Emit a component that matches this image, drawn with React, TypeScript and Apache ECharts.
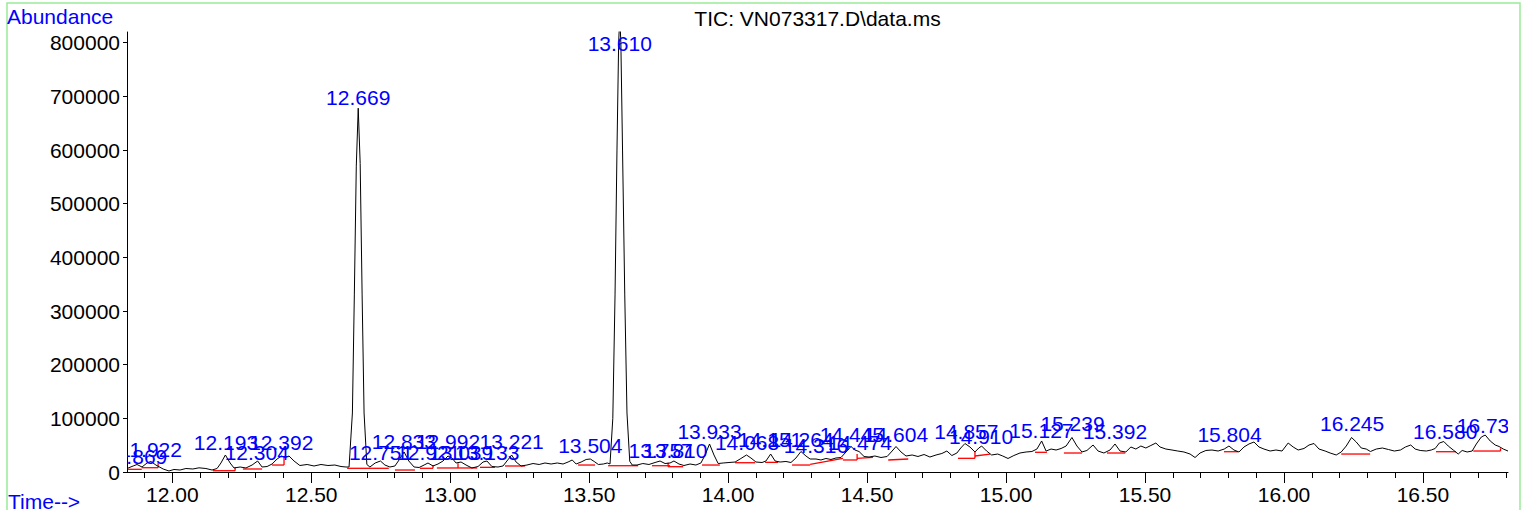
import React, { useEffect, useRef } from "react";
import * as echarts from "echarts";

// ---- data ----
const traceTime = [
  11.837, 11.859, 11.873, 11.891, 11.909, 11.923, 11.941, 11.967, 11.988, 12.006,
  12.028, 12.049, 12.074, 12.096, 12.121, 12.143, 12.161, 12.175, 12.191, 12.208,
  12.222, 12.244, 12.265, 12.287, 12.307, 12.323, 12.341, 12.359, 12.377, 12.393,
  12.406, 12.42, 12.438, 12.459, 12.485, 12.51, 12.535, 12.56, 12.585, 12.607,
  12.625, 12.636, 12.648, 12.655, 12.662, 12.669, 12.676, 12.683, 12.69, 12.7,
  12.711, 12.73, 12.749, 12.765, 12.783, 12.801, 12.816, 12.834, 12.851, 12.87,
  12.888, 12.906, 12.92, 12.938, 12.956, 12.974, 12.992, 13.006, 13.021, 13.039,
  13.057, 13.078, 13.1, 13.118, 13.132, 13.15, 13.172, 13.19, 13.204, 13.221,
  13.237, 13.255, 13.276, 13.298, 13.32, 13.341, 13.363, 13.385, 13.406, 13.424,
  13.439, 13.453, 13.471, 13.489, 13.504, 13.518, 13.533, 13.551, 13.565, 13.575,
  13.585, 13.593, 13.6, 13.606, 13.61, 13.614, 13.62, 13.628, 13.636, 13.646,
  13.655, 13.672, 13.693, 13.715, 13.737, 13.755, 13.773, 13.791, 13.805, 13.823,
  13.841, 13.863, 13.884, 13.902, 13.917, 13.933, 13.949, 13.964, 13.982, 14.003,
  14.025, 14.043, 14.066, 14.082, 14.1, 14.122, 14.136, 14.153, 14.169, 14.187,
  14.208, 14.226, 14.244, 14.262, 14.28, 14.295, 14.316, 14.334, 14.352, 14.37,
  14.388, 14.406, 14.424, 14.442, 14.456, 14.471, 14.489, 14.507, 14.528, 14.55,
  14.572, 14.59, 14.604, 14.622, 14.64, 14.662, 14.683, 14.705, 14.726, 14.748,
  14.769, 14.787, 14.805, 14.823, 14.837, 14.852, 14.87, 14.888, 14.902, 14.912,
  14.93, 14.948, 14.97, 14.988, 15.007, 15.028, 15.05, 15.072, 15.093, 15.111,
  15.128, 15.144, 15.162, 15.18, 15.198, 15.216, 15.237, 15.255, 15.273, 15.291,
  15.313, 15.331, 15.352, 15.374, 15.392, 15.41, 15.431, 15.449, 15.467, 15.485,
  15.503, 15.521, 15.539, 15.554, 15.575, 15.597, 15.618, 15.64, 15.662, 15.68,
  15.698, 15.719, 15.741, 15.763, 15.785, 15.802, 15.82, 15.838, 15.856, 15.874,
  15.892, 15.91, 15.928, 15.95, 15.971, 15.993, 16.015, 16.033, 16.051, 16.072,
  16.09, 16.108, 16.126, 16.148, 16.166, 16.188, 16.206, 16.224, 16.243, 16.26,
  16.278, 16.296, 16.311, 16.332, 16.354, 16.376, 16.397, 16.419, 16.437, 16.456,
  16.472, 16.49, 16.512, 16.53, 16.544, 16.559, 16.575, 16.591, 16.609, 16.627,
  16.641, 16.659, 16.677, 16.692, 16.71, 16.724, 16.742, 16.76, 16.774, 16.789,
  16.806,
];
const traceAbundance = [
  6500, 11200, 14000, 9300, 16800, 19600, 13000, 5600, 1900, 4700,
  3700, 6500, 5600, 7800, 6500, 3700, 6500, 16800, 31700, 16800,
  7500, 9300, 7500, 13000, 20500, 9300, 10200, 14900, 24200, 29800,
  27000, 29800, 20500, 12100, 14000, 11200, 14000, 12100, 13000, 10200,
  9300, 9300, 110000, 330000, 570000, 678000, 575000, 330000, 110000, 14000,
  9300, 16800, 20500, 13000, 9300, 11200, 22400, 37300, 20500, 9300,
  8400, 13000, 16800, 11200, 14900, 20500, 29800, 26100, 16800, 18600,
  13000, 7500, 10200, 18600, 20500, 10200, 9300, 11200, 20500, 31700,
  18600, 11200, 13000, 15800, 14000, 16800, 14900, 16800, 14900, 18600,
  22400, 14900, 18600, 23300, 24200, 19600, 14000, 14900, 16800, 15000,
  100000, 330000, 600000, 800000, 850000, 800000, 600000, 330000, 110000, 20000,
  13000, 13000, 15800, 14000, 17700, 20500, 15800, 16800, 20500, 14900,
  12100, 14900, 13000, 16800, 31700, 52200, 31700, 15800, 16800, 17700,
  18600, 24200, 31700, 26100, 18600, 17700, 20500, 33500, 20500, 18600,
  19600, 17700, 26100, 38200, 29800, 24200, 24200, 22400, 25200, 23300,
  26100, 27000, 37300, 47500, 41000, 38200, 28900, 27900, 29800, 27000,
  28900, 39100, 47500, 37300, 29800, 31700, 28900, 32600, 27900, 31700,
  34500, 39100, 30700, 35400, 44700, 53100, 46600, 37300, 44700, 48400,
  39100, 31700, 33500, 29800, 25200, 30700, 35400, 37300, 38200, 42800,
  57800, 39100, 42800, 41000, 43800, 48400, 64300, 48400, 37300, 40100,
  50300, 39100, 35400, 41000, 52200, 39100, 37300, 46600, 42800, 48400,
  44700, 49400, 54000, 46600, 42800, 41000, 39100, 37300, 33500, 27000,
  35400, 40100, 41000, 39100, 42800, 48400, 41000, 37300, 46600, 52200,
  55900, 46600, 42800, 39100, 41000, 39100, 54000, 46600, 41000, 43800,
  50300, 53100, 42800, 39100, 35400, 31700, 37300, 48400, 64300, 55900,
  44700, 42800, 38200, 42800, 44700, 41900, 39100, 41000, 46600, 50300,
  42800, 40100, 39100, 41000, 43800, 54000, 56800, 48400, 41000, 33500,
  40100, 37300, 39100, 52200, 65200, 68900, 57800, 50300, 47500, 42800,
  39100,
];

// peak labels: retention time and apex abundance
const peakTimes = [
  11.869, 11.922, 12.193, 12.304, 12.392, 12.669, 12.751, 12.833, 12.921, 12.992,
  13.039, 13.133, 13.221, 13.504, 13.61, 13.757, 13.81, 13.933, 14.068, 14.151,
  14.264, 14.316, 14.445, 14.474, 14.604, 14.857, 14.91, 15.127, 15.239, 15.392,
  15.804, 16.245, 16.58, 16.737,
];
const peakApex = [
  5600, 20500, 33500, 14900, 33500, 676000, 14900, 35400, 14900, 35400,
  14900, 14900, 35400, 26100, 850000, 18600, 18600, 52200, 31700, 37300,
  39100, 27900, 46600, 33500, 48400, 52200, 44700, 55900, 68900, 54000,
  46600, 67100, 54000, 65200,
];

// integration baselines (red): start time, start abundance, end time, end abundance
const baseStartTime = [
  11.841, 11.89, 12.146, 12.254, 12.359, 12.629, 12.722, 12.801, 12.891, 12.952,
  13.028, 13.107, 13.197, 13.46, 13.568, 13.726, 13.784, 13.906, 14.025, 14.133,
  14.23, 14.295, 14.413, 14.464, 14.576, 14.827, 14.888, 15.104, 15.208, 15.363,
  15.784, 16.206, 16.547, 16.681,
];
const baseStartValue = [
  5000, 8000, 2400, 5600, 13000, 6900, 6900, 3700, 6900, 7500,
  7500, 8700, 11200, 13000, 11700, 11700, 9900, 13000, 17300, 18000,
  13000, 14300, 22400, 25500, 22400, 25500, 29800, 36700, 35400, 35400,
  37800, 33500, 37800, 39100,
];
const baseEndTime = [
  11.89, 11.949, 12.226, 12.323, 12.402, 12.722, 12.779, 12.873, 12.938, 13.028,
  13.097, 13.161, 13.269, 13.521, 13.676, 13.791, 13.838, 13.97, 14.097, 14.18,
  14.295, 14.413, 14.464, 14.521, 14.648, 14.888, 14.942, 15.147, 15.273, 15.429,
  15.835, 16.31, 16.619, 16.779,
];
const baseEndValue = [
  5000, 8000, 2400, 5600, 13000, 6900, 6900, 3700, 6900, 7500,
  7500, 8700, 11200, 13000, 11700, 11700, 9900, 13000, 17300, 18000,
  13000, 25500, 22400, 27400, 24200, 25500, 33500, 36700, 35400, 35400,
  37800, 33500, 37800, 39100,
];
// vertical drop lines at split peaks: time, low abundance, high abundance
const dropTime = [11.949, 12.226, 12.402, 12.938, 13.028, 13.784, 14.464, 14.888, 16.779];
const dropLow = [8000, 2400, 13000, 6900, 7500, 9900, 22400, 25500, 39100];
const dropHigh = [16800, 8700, 28500, 13000, 16200, 17300, 33500, 37800, 44200];

const yTicks = [0, 100000, 200000, 300000, 400000, 500000, 600000, 700000, 800000];
const xMajorTicks = [12.0, 12.5, 13.0, 13.5, 14.0, 14.5, 15.0, 15.5, 16.0, 16.5];
const xMinorTicks = [
  11.9, 12.0, 12.1, 12.2, 12.3, 12.4, 12.5, 12.6, 12.7, 12.8, 12.9, 13.0, 13.1, 13.2,
  13.3, 13.4, 13.5, 13.6, 13.7, 13.8, 13.9, 14.0, 14.1, 14.2, 14.3, 14.4, 14.5, 14.6,
  14.7, 14.8, 14.9, 15.0, 15.1, 15.2, 15.3, 15.4, 15.5, 15.6, 15.7, 15.8, 15.9, 16.0,
  16.1, 16.2, 16.3, 16.4, 16.5, 16.6, 16.7, 16.8,
];
const xMin = 11.837;
const xMax = 16.806;
const yMax = 820000;

const titleText = "TIC: VN073317.D\\data.ms";
const yName = "Abundance";
const xName = "Time-->";

const FONT = '"Liberation Sans", Arial, sans-serif';
const FS = 21;
const BLUE = "#0000ff";

export default function App() {
  const ref = useRef<HTMLDivElement>(null);

  useEffect(() => {
    if (!ref.current) return;
    const chart = echarts.init(ref.current, undefined, { renderer: "svg" });
    const gridLeft = 127;
    const gridTop = 32;
    const gridWidth = 1381;
    const gridHeight = 440;

    const trace = traceTime.map((t, i) => [t, traceAbundance[i]]);
    const labels = peakTimes.map((t, i) => [t, peakApex[i]]);
    const bases = baseStartTime.map((t, i) => [t, baseStartValue[i], baseEndTime[i], baseEndValue[i]]);
    const drops = dropTime.map((t, i) => [t, dropLow[i], t, dropHigh[i]]);

    const segRender = (_p: any, api: any) => {
      const a = api.coord([api.value(0), api.value(1)]);
      const b = api.coord([api.value(2), api.value(3)]);
      return {
        type: "line",
        shape: { x1: a[0], y1: a[1], x2: b[0], y2: b[1] },
        style: { stroke: "#ff0000", lineWidth: 1.3 },
      };
    };

    chart.setOption({
      animation: false,
      grid: { left: gridLeft, top: gridTop, width: gridWidth, height: gridHeight, containLabel: false },
      xAxis: [
        {
          type: "value",
          min: xMin,
          max: xMax,
          position: "bottom",
          axisLine: { show: true, lineStyle: { color: "#000", width: 1 } },
          axisTick: { show: true, length: 11, customValues: xMajorTicks, lineStyle: { color: "#000" } },
          axisLabel: {
            show: true,
            customValues: xMajorTicks,
            formatter: (v: number) => v.toFixed(2),
            color: "#000",
            fontSize: FS,
            fontFamily: FONT,
            margin: 12,
          },
          splitLine: { show: false },
        },
        {
          type: "value",
          min: xMin,
          max: xMax,
          position: "bottom",
          axisLine: { show: false },
          axisTick: { show: true, length: 6, customValues: xMinorTicks, lineStyle: { color: "#000" } },
          axisLabel: { show: false },
          splitLine: { show: false },
        },
      ],
      yAxis: {
        type: "value",
        min: 0,
        max: yMax,
        axisLine: { show: true, lineStyle: { color: "#000", width: 1 } },
        axisTick: { show: true, length: 4, customValues: yTicks, lineStyle: { color: "#000" } },
        axisLabel: {
          show: true,
          customValues: yTicks,
          formatter: (v: number) => String(v),
          color: "#000",
          fontSize: FS,
          fontFamily: FONT,
          margin: 7,
        },
        splitLine: { show: false },
      },
      graphic: [
        {
          type: "rect",
          shape: { x: 7, y: 3, width: 1513, height: 530 },
          style: { fill: "none", stroke: "#98ec98", lineWidth: 1.5 },
          silent: true,
        },
        {
          type: "text",
          x: (gridLeft + gridLeft + gridWidth) / 2,
          y: 18,
          style: { text: titleText, fill: "#000", font: `${FS}px ${FONT}`, align: "center", verticalAlign: "middle" },
        },
        {
          type: "text",
          x: 7,
          y: 16,
          style: { text: yName, fill: BLUE, font: `${FS}px ${FONT}`, align: "left", verticalAlign: "middle" },
        },
        {
          type: "text",
          x: 8,
          y: 501,
          style: { text: xName, fill: BLUE, font: `${FS}px ${FONT}`, align: "left", verticalAlign: "middle" },
        },
      ],
      series: [
        {
          type: "line",
          data: trace,
          showSymbol: false,
          symbol: "none",
          clip: true,
          lineStyle: { color: "#000", width: 1 },
          z: 3,
        },
        {
          type: "custom",
          data: bases,
          clip: true,
          encode: { x: [0, 2], y: [1, 3] },
          renderItem: segRender,
          z: 2,
        },
        {
          type: "custom",
          data: drops,
          clip: true,
          encode: { x: [0, 2], y: [1, 3] },
          renderItem: segRender,
          z: 2,
        },
        {
          type: "custom",
          data: labels,
          clip: true,
          encode: { x: 0, y: 1 },
          renderItem: (p: any, api: any) => {
            const c = api.coord([api.value(0), api.value(1)]);
            const y = Math.max(c[1] - 12, gridTop + 11);
            return {
              type: "text",
              x: c[0],
              y,
              style: {
                text: peakTimes[p.dataIndex].toFixed(3),
                fill: BLUE,
                font: `${FS}px ${FONT}`,
                align: "center",
                verticalAlign: "middle",
              },
            };
          },
          z: 4,
        },
      ],
    });
    return () => chart.dispose();
  }, []);

  return (
    <div
      ref={ref}
      style={{ position: "absolute", left: 0, top: 0, width: 1526, height: 510, background: "#fff" }}
    />
  );
}
